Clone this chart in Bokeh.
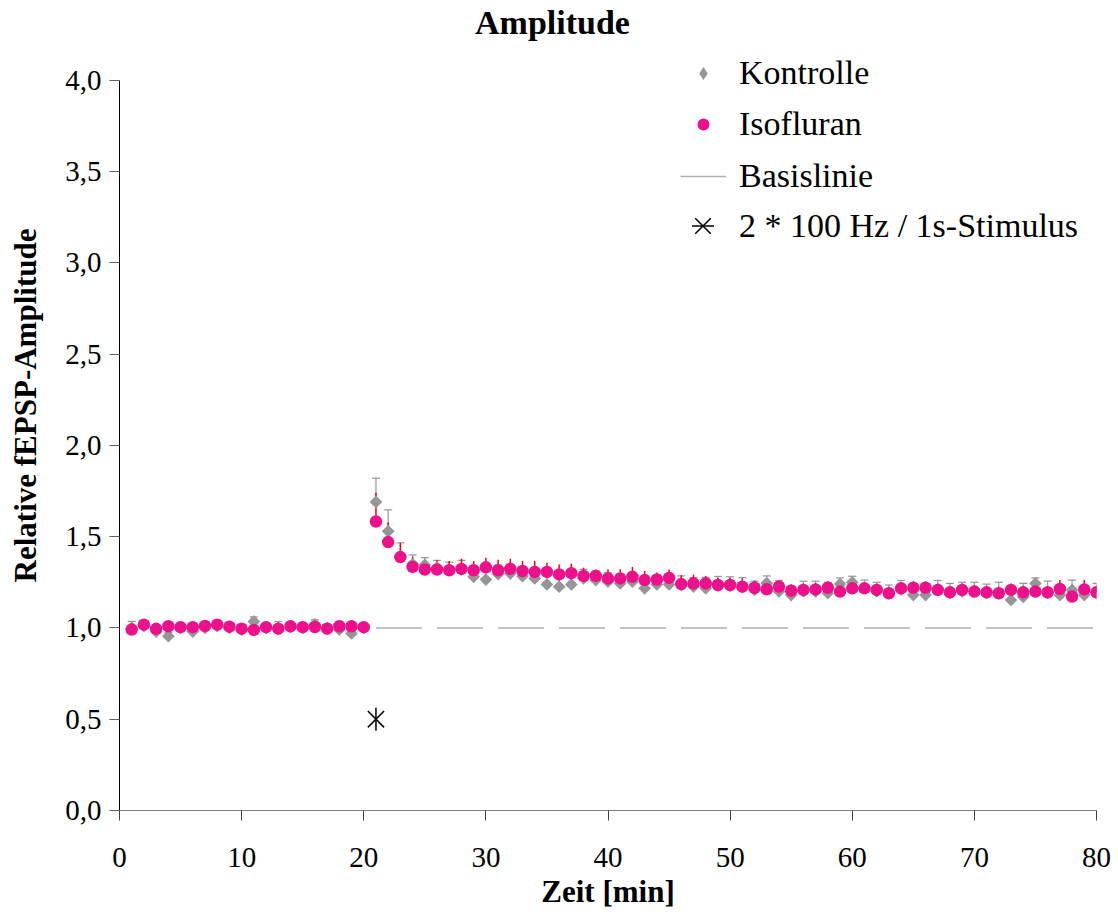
import math
from bokeh.plotting import figure
from bokeh.models import (Range1d, FixedTicker, Whisker, TeeHead, ColumnDataSource,
                          Legend, LegendItem, Label)
from bokeh.embed import file_html
from bokeh.resources import INLINE

# ---------------- data ----------------
time_min = list(range(1, 81))

kontrolle = [
    1.00, 1.01, 0.98, 0.955, 1.00, 0.98, 1.00, 1.01, 1.00, 0.99,
    1.035, 1.00, 1.00, 1.005, 1.00, 1.02, 1.00, 0.99, 0.97, 1.00,
    1.69, 1.53, 1.39, 1.35, 1.345, 1.33, 1.32, 1.32, 1.28, 1.265,
    1.294, 1.298, 1.283, 1.271, 1.238, 1.226, 1.238, 1.271, 1.262, 1.253,
    1.244, 1.253, 1.217, 1.238, 1.238, 1.235, 1.226, 1.217, 1.232, 1.23,
    1.226, 1.208, 1.245, 1.20, 1.18, 1.20, 1.20, 1.19, 1.24, 1.25,
    1.22, 1.20, 1.19, 1.21, 1.18, 1.18, 1.21, 1.19, 1.20, 1.20,
    1.19, 1.19, 1.153, 1.17, 1.244, 1.19, 1.18, 1.208, 1.18, 1.19,
]
kontrolle_err = [
    0.036, 0.02, 0.02, 0.02, 0.02, 0.02, 0.02, 0.02, 0.02, 0.02,
    0.025, 0.02, 0.035, 0.02, 0.02, 0.025, 0.02, 0.02, 0.02, 0.02,
    0.13, 0.117, 0.076, 0.05, 0.04, 0.04, 0.04, 0.05, 0.05, 0.05,
    0.05, 0.05, 0.05, 0.05, 0.05, 0.05, 0.05, 0.05, 0.05, 0.05,
    0.05, 0.05, 0.05, 0.05, 0.05, 0.05, 0.05, 0.06, 0.05, 0.05,
    0.05, 0.048, 0.04, 0.06, 0.05, 0.056, 0.056, 0.06, 0.034, 0.033,
    0.042, 0.05, 0.045, 0.05, 0.05, 0.05, 0.05, 0.054, 0.05, 0.05,
    0.05, 0.06, 0.06, 0.074, 0.03, 0.066, 0.05, 0.054, 0.05, 0.054,
]
isofluran = [
    0.991, 1.018, 0.995, 1.009, 1.004, 1.004, 1.011, 1.018, 1.007, 0.996,
    0.989, 1.004, 0.996, 1.009, 1.004, 1.005, 0.996, 1.009, 1.009, 1.004,
    1.583, 1.47, 1.388, 1.334, 1.32, 1.32, 1.316, 1.323, 1.316, 1.332,
    1.316, 1.323, 1.312, 1.307, 1.307, 1.293, 1.30, 1.285, 1.285, 1.271,
    1.271, 1.28, 1.262, 1.265, 1.274, 1.24, 1.244, 1.244, 1.235, 1.235,
    1.226, 1.22, 1.212, 1.226, 1.204, 1.208, 1.211, 1.22, 1.199, 1.217,
    1.217, 1.208, 1.19, 1.217, 1.22, 1.22, 1.208, 1.195, 1.208, 1.199,
    1.195, 1.19, 1.208, 1.195, 1.199, 1.195, 1.213, 1.172, 1.211, 1.195,
]
isofluran_err = [
    0.015, 0.015, 0.015, 0.015, 0.015, 0.015, 0.015, 0.015, 0.015, 0.015,
    0.015, 0.015, 0.015, 0.015, 0.015, 0.015, 0.015, 0.015, 0.015, 0.015,
    0.157, 0.108, 0.078, 0.056, 0.05, 0.05, 0.05, 0.056, 0.05, 0.053,
    0.058, 0.056, 0.055, 0.06, 0.05, 0.054, 0.052, 0.045, 0.035, 0.05,
    0.05, 0.054, 0.05, 0.038, 0.046, 0.049, 0.048, 0.04, 0.04, 0.04,
    0.045, 0.04, 0.04, 0.035, 0.035, 0.035, 0.035, 0.035, 0.035, 0.035,
    0.035, 0.035, 0.035, 0.035, 0.035, 0.035, 0.035, 0.035, 0.035, 0.035,
    0.035, 0.035, 0.036, 0.035, 0.035, 0.035, 0.049, 0.035, 0.051, 0.035,
]
baseline_x = [21, 80]
baseline_y = [1.0, 1.0]
stimulus_x = [21]
stimulus_y = [0.5]

x_ticks = [0, 10, 20, 30, 40, 50, 60, 70, 80]
y_ticks = [0.0, 0.5, 1.0, 1.5, 2.0, 2.5, 3.0, 3.5, 4.0]
y_tick_labels = ["0,0", "0,5", "1,0", "1,5", "2,0", "2,5", "3,0", "3,5", "4,0"]

series_labels = ["Kontrolle", "Isofluran", "Basislinie", "2 * 100 Hz / 1s-Stimulus"]
title_text = "Amplitude"
x_label = "Zeit [min]"
y_label = "Relative fEPSP-Amplitude"

# ---------------- layout / styles ----------------
FONT = "Liberation Serif"
GRAY = "#969696"
PINK = "#EC118A"
RED = "#FF0000"

W, H = 1114, 911
LEFT, RIGHT_EDGE, AXIS_TOP, BOTTOM = 119, 1096, 80, 813   # pixel layout of the axes box
Y_MAX = 4.0
# frame reaches the top of the canvas so that the legend/title may sit above 4,0
y_end = Y_MAX * BOTTOM / (BOTTOM - AXIS_TOP)

src = ColumnDataSource(dict(
    t=time_min,
    k=kontrolle,
    k_up=[v + e for v, e in zip(kontrolle, kontrolle_err)],
    i=isofluran,
    i_up=[v + e for v, e in zip(isofluran, isofluran_err)],
))

p = figure(width=W, height=H, x_range=Range1d(0, 80), y_range=Range1d(0, y_end),
           output_backend="svg", toolbar_location=None, title=None,
           min_border_left=LEFT, min_border_right=W - RIGHT_EDGE,
           min_border_top=0, min_border_bottom=H - BOTTOM)
p.outline_line_color = None
p.xgrid.visible = False
p.ygrid.visible = False
p.background_fill_color = "white"
p.border_fill_color = "white"

# axes
xa = p.xaxis[0]
xa.ticker = FixedTicker(ticks=x_ticks)
xa.axis_line_color = "#808080"
xa.major_tick_line_color = "#404040"
xa.major_tick_out = 10
xa.major_tick_in = 0
xa.minor_tick_line_color = None
xa.major_label_text_font = FONT
xa.major_label_text_font_size = "29px"
xa.major_label_text_color = "black"
xa.major_label_standoff = 27
xa.axis_label = x_label
xa.axis_label_text_font = FONT
xa.axis_label_text_font_size = "31px"
xa.axis_label_text_font_style = "bold"
xa.axis_label_text_color = "black"
xa.axis_label_standoff = 4

ya = p.yaxis[0]
ya.ticker = FixedTicker(ticks=y_ticks)
ya.bounds = (0, Y_MAX)
ya.major_label_overrides = {t: l for t, l in zip(y_ticks, y_tick_labels)}
ya.axis_line_color = "black"
ya.major_tick_line_color = "#606060"
ya.major_tick_out = 10
ya.major_tick_in = 0
ya.minor_tick_line_color = None
ya.major_label_text_font = FONT
ya.major_label_text_font_size = "29px"
ya.major_label_text_color = "black"
ya.major_label_standoff = 8
ya.axis_label = y_label
ya.axis_label_text_font = FONT
ya.axis_label_text_font_size = "31px"
ya.axis_label_text_font_style = "bold"
ya.axis_label_text_color = "black"
ya.axis_label_standoff = 19

# title (screen units relative to the frame's lower-left corner)
p.add_layout(Label(x=433, y=788, x_units="screen", y_units="screen", text=title_text,
                   text_font=FONT, text_font_size="34px", text_font_style="bold",
                   text_align="center", text_baseline="middle", text_color="black"))

# baseline
r_base = p.line(baseline_x, baseline_y, line_color="#B0B0B0", line_width=1.5, line_dash="46 15")

# error bars
wk = Whisker(base="t", lower="k", upper="k_up", source=src, line_color=GRAY, line_width=1.2,
             upper_head=TeeHead(size=8, line_color=GRAY, line_width=1.2), lower_head=None)
p.add_layout(wk)
p.segment(x0="t", y0="i", x1="t", y1="i_up", source=src, line_color=RED, line_width=1.5)

# markers
r_k = p.scatter("t", "k", source=src, marker="square", angle=math.pi / 4, size=9,
                fill_color=GRAY, line_color=None)
r_i = p.scatter("t", "i", source=src, marker="circle", size=12.5,
                fill_color=PINK, line_color=None)
# legend-only diamond symbol (legend glyphs ignore the marker angle); hidden in the plot
r_k_leg = p.scatter("t", "k", source=src, marker="diamond", fill_color=GRAY,
                    line_color=None, visible=False)

# stimulus
r_sx = p.scatter(stimulus_x, stimulus_y, marker="x", size=23, line_color="black", line_width=1.5)
r_sv = p.scatter(stimulus_x, stimulus_y, marker="dash", angle=math.pi / 2, size=23,
                 line_color="black", line_width=1.5)


def add_legend(item, gw, gh, loc, standoff):
    lg = Legend(items=[item], location=loc, glyph_width=gw, glyph_height=gh,
                label_height=40, label_standoff=standoff, padding=0, margin=0,
                spacing=0, border_line_color=None, background_fill_alpha=0,
                inactive_fill_alpha=0,
                label_text_font=FONT, label_text_font_size="34px",
                label_text_color="black")
    p.add_layout(lg)


add_legend(LegendItem(label=series_labels[0], renderers=[r_k_leg]), 46, 32, (561, 717), 13)
add_legend(LegendItem(label=series_labels[1], renderers=[r_i]), 46, 30, (561, 666), 13)
add_legend(LegendItem(label=series_labels[2], renderers=[r_base]), 46, 30, (561, 614), 13)
add_legend(LegendItem(label=series_labels[3], renderers=[r_sx, r_sv]), 55, 55, (556, 557), 9)

open("out.html", "w").write(file_html(p, INLINE))
